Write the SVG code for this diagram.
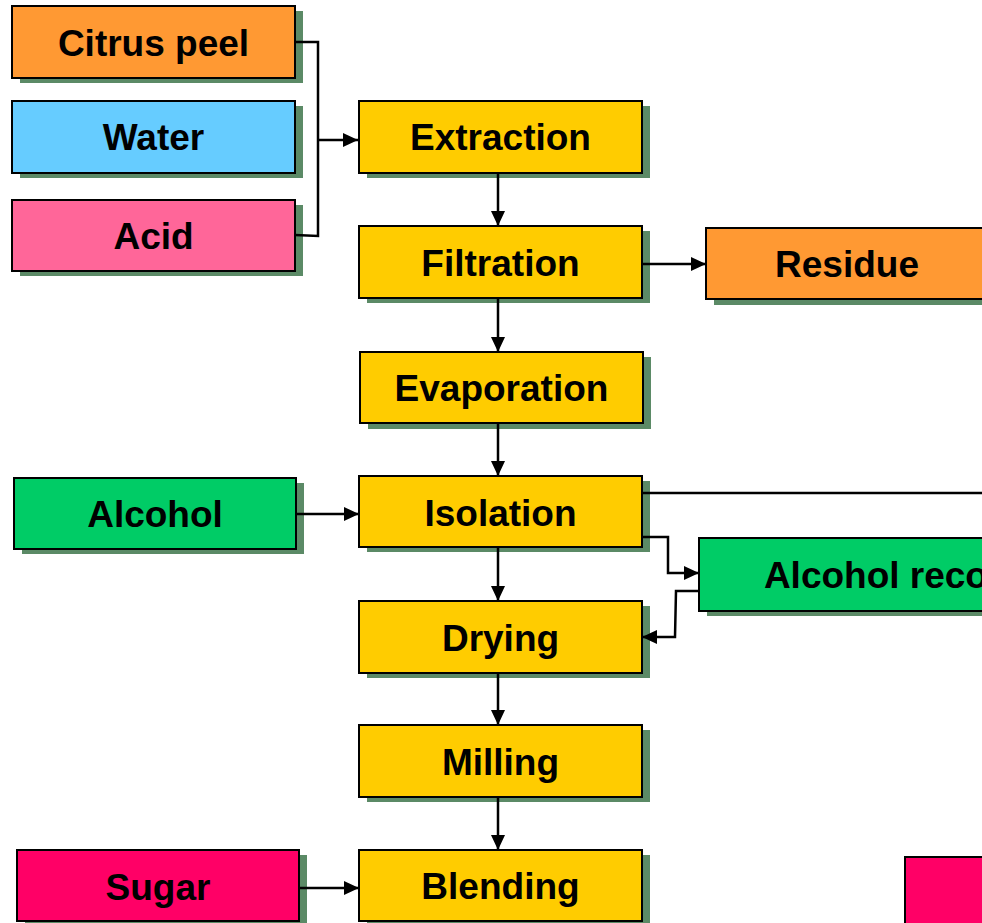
<svg xmlns="http://www.w3.org/2000/svg" width="982" height="923" viewBox="0 0 982 923">
<defs>
<style>
.box{stroke:#000;stroke-width:2}
.sh{fill:#5B8A66}
.t{font-family:"Liberation Sans",Arial,sans-serif;font-weight:bold;font-size:37px;text-anchor:middle;fill:#000}
.c{fill:none;stroke:#000;stroke-width:2.5}
</style>
<marker id="ar" viewBox="0 0 15 14" refX="15" refY="7" markerWidth="15" markerHeight="14" markerUnits="userSpaceOnUse" orient="auto">
<path d="M0,0 L15,7 L0,14 Z" fill="#000"/>
</marker>
</defs>
<rect width="982" height="923" fill="#fff"/>

<g id="citrus"><rect class="sh" x="20" y="11" width="283" height="72"/><rect class="box" x="12" y="6" width="283" height="72" fill="#FF9933"/><text class="t" x="153.5" y="56">Citrus peel</text></g>
<g id="water"><rect class="sh" x="20" y="106" width="283" height="72"/><rect class="box" x="12" y="101" width="283" height="72" fill="#66CCFF"/><text class="t" x="153.5" y="150">Water</text></g>
<g id="acid"><rect class="sh" x="20" y="205" width="283" height="71"/><rect class="box" x="12" y="200" width="283" height="71" fill="#FF6699"/><text class="t" x="153.5" y="249">Acid</text></g>

<g id="extraction"><rect class="sh" x="367" y="106" width="283" height="72"/><rect class="box" x="359" y="101" width="283" height="72" fill="#FFCC00"/><text class="t" x="500.5" y="150">Extraction</text></g>
<g id="filtration"><rect class="sh" x="367" y="231" width="283" height="72"/><rect class="box" x="359" y="226" width="283" height="72" fill="#FFCC00"/><text class="t" x="500.5" y="276">Filtration</text></g>
<g id="residue"><rect class="sh" x="714" y="233" width="283" height="72"/><rect class="box" x="706" y="228" width="283" height="71" fill="#FF9933"/><text class="t" x="847" y="277">Residue</text></g>
<g id="evaporation"><rect class="sh" x="368" y="357" width="283" height="72"/><rect class="box" x="360" y="352" width="283" height="71" fill="#FFCC00"/><text class="t" x="501.5" y="401">Evaporation</text></g>
<g id="alcohol"><rect class="sh" x="22" y="483" width="282" height="71"/><rect class="box" x="14" y="478" width="282" height="71" fill="#00CC66"/><text class="t" x="155" y="527">Alcohol</text></g>
<g id="isolation"><rect class="sh" x="367" y="481" width="283" height="71"/><rect class="box" x="359" y="476" width="283" height="71" fill="#FFCC00"/><text class="t" x="500.5" y="526">Isolation</text></g>
<g id="alcohol-recovery"><rect class="sh" x="707" y="543" width="430" height="73"/><rect class="box" x="699" y="538" width="430" height="73" fill="#00CC66"/><text class="t" x="914" y="588">Alcohol recovery</text></g>
<g id="drying"><rect class="sh" x="367" y="606" width="283" height="72"/><rect class="box" x="359" y="601" width="283" height="72" fill="#FFCC00"/><text class="t" x="500.5" y="651">Drying</text></g>
<g id="milling"><rect class="sh" x="367" y="730" width="283" height="72"/><rect class="box" x="359" y="725" width="283" height="72" fill="#FFCC00"/><text class="t" x="500.5" y="775">Milling</text></g>
<g id="sugar"><rect class="sh" x="25" y="855" width="282" height="71"/><rect class="box" x="17" y="850" width="282" height="71" fill="#FF0066"/><text class="t" x="158" y="900">Sugar</text></g>
<g id="blending"><rect class="sh" x="367" y="855" width="283" height="71"/><rect class="box" x="359" y="850" width="283" height="71" fill="#FFCC00"/><text class="t" x="500.5" y="899">Blending</text></g>
<g id="pink-right"><rect class="box" x="905" y="857" width="120" height="90" fill="#FF0066"/></g>

<g id="connectors">
<polyline class="c" points="295,42 318,42 318,236 295,235"/>
<line class="c" x1="318" y1="140" x2="358" y2="140" marker-end="url(#ar)"/>
<line class="c" x1="498" y1="173" x2="498" y2="226" marker-end="url(#ar)"/>
<line class="c" x1="642" y1="264" x2="706" y2="264" marker-end="url(#ar)"/>
<line class="c" x1="498" y1="298" x2="498" y2="352" marker-end="url(#ar)"/>
<line class="c" x1="498" y1="423" x2="498" y2="476" marker-end="url(#ar)"/>
<line class="c" x1="296" y1="514" x2="359" y2="514" marker-end="url(#ar)"/>
<line class="c" x1="642" y1="493" x2="982" y2="493"/>
<polyline class="c" points="642,537 668,537 668,573 699,573" marker-end="url(#ar)"/>
<polyline class="c" points="699,591 676,591 675,637 642,637" marker-end="url(#ar)"/>
<line class="c" x1="498" y1="547" x2="498" y2="601" marker-end="url(#ar)"/>
<line class="c" x1="498" y1="673" x2="498" y2="725" marker-end="url(#ar)"/>
<line class="c" x1="498" y1="797" x2="498" y2="850" marker-end="url(#ar)"/>
<line class="c" x1="299" y1="888" x2="359" y2="888" marker-end="url(#ar)"/>
</g>
</svg>
